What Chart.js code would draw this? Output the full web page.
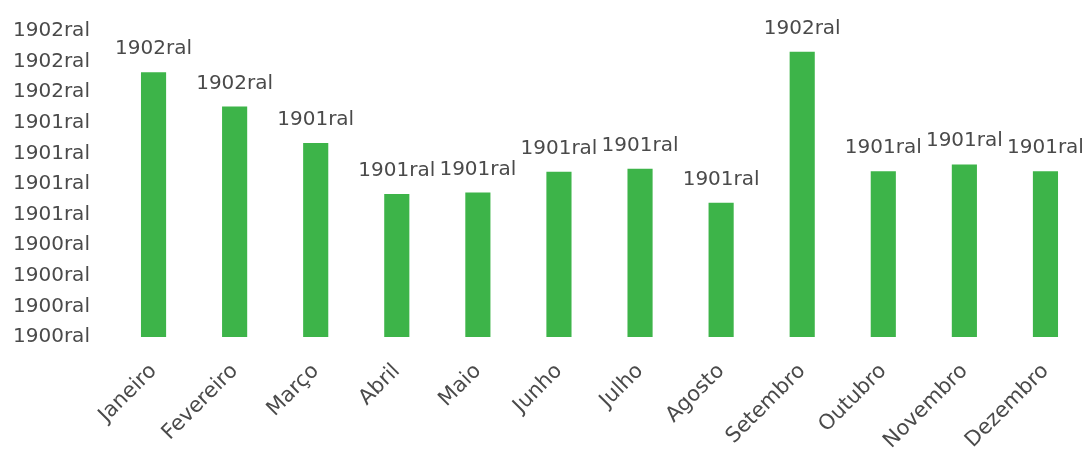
<!DOCTYPE html>
<html>
<head>
<meta charset="utf-8">
<script src="https://cdn.jsdelivr.net/npm/chart.js@4/dist/chart.umd.min.js"></script>
<style>
  html, body { margin: 0; padding: 0; background: #ffffff; }
  #wrap { width: 1088px; height: 449px; position: relative; }
</style>
</head>
<body>
<div id="wrap"><canvas id="c"></canvas></div>
<script>
const categories = ['Janeiro', 'Fevereiro', 'Março', 'Abril', 'Maio', 'Junho', 'Julho', 'Agosto', 'Setembro', 'Outubro', 'Novembro', 'Dezembro'];
const values = [8.65, 7.53, 6.34, 4.67, 4.72, 5.40, 5.50, 4.39, 9.32, 5.42, 5.64, 5.42];
const valueLabels = ['1902ral', '1902ral', '1901ral', '1901ral', '1901ral', '1901ral', '1901ral', '1901ral', '1902ral', '1901ral', '1901ral', '1901ral'];
const yTickLabels = ['1900ral', '1900ral', '1900ral', '1900ral', '1901ral', '1901ral', '1901ral', '1901ral', '1902ral', '1902ral', '1902ral'];

const FONT = "'DejaVu Sans', sans-serif";
const TEXT_COLOR = '#4a4a4a';

const valueLabelPlugin = {
  id: 'valueLabels',
  afterDatasetsDraw(chart) {
    const ctx = chart.ctx;
    const meta = chart.getDatasetMeta(0);
    ctx.save();
    ctx.font = '20px ' + FONT;
    ctx.fillStyle = TEXT_COLOR;
    ctx.textAlign = 'center';
    ctx.textBaseline = 'alphabetic';
    meta.data.forEach((bar, i) => {
      ctx.fillText(valueLabels[i], bar.x, bar.y - 18);
    });
    ctx.restore();
  }
};

new Chart(document.getElementById('c'), {
  type: 'bar',
  data: {
    labels: categories,
    datasets: [{
      data: values,
      backgroundColor: '#3db449',
      borderWidth: 0,
      categoryPercentage: 1.0,
      barPercentage: 0.31
    }]
  },
  options: {
    responsive: true,
    maintainAspectRatio: false,
    animation: false,
    layout: { padding: { top: 31, right: 2, bottom: 0, left: 13 } },
    plugins: { legend: { display: false }, tooltip: { enabled: false } },
    scales: {
      x: {
        grid: { display: false, drawTicks: false },
        border: { display: false },
        afterFit(scale) { scale.height = 112; },
        ticks: {
          autoSkip: false,
          maxRotation: 45,
          minRotation: 45,
          padding: 22,
          color: TEXT_COLOR,
          font: { family: FONT, size: 21 }
        }
      },
      y: {
        min: 0,
        max: 10,
        grid: { display: false, drawTicks: false },
        border: { display: false },
        afterFit(scale) { scale.width = 100; },
        ticks: {
          stepSize: 1,
          padding: 0,
          crossAlign: 'far',
          color: TEXT_COLOR,
          font: { family: FONT, size: 20 },
          callback: (v, i) => yTickLabels[i]
        }
      }
    }
  },
  plugins: [valueLabelPlugin]
});
</script>
</body>
</html>
